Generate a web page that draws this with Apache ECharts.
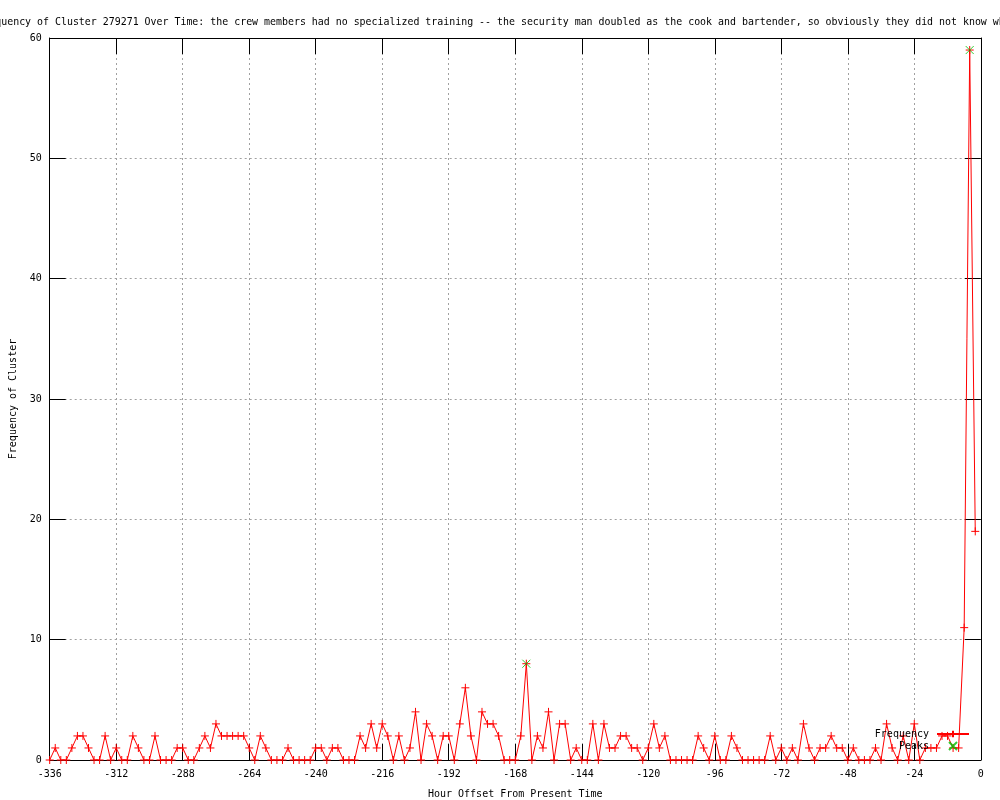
<!DOCTYPE html>
<html><head><meta charset="utf-8">
<script src="https://cdn.jsdelivr.net/npm/echarts@6.0.0/dist/echarts.min.js"></script>
<style>html,body{margin:0;padding:0;background:#fff}#c{width:1000px;height:800px}</style>
</head><body><div id="c"></div>
<script>
const titleText = "Frequency of Cluster 279271 Over Time: the crew members had no specialized training -- the security man doubled as the cook and bartender, so obviously they did not know what ";
const xAxisName = "Hour Offset From Present Time";
const yAxisName = "Frequency of Cluster";
const hours = [-336,-334,-332,-330,-328,-326,-324,-322,-320,-318,-316,-314,-312,-310,-308,-306,-304,-302,-300,-298,-296,-294,-292,-290,-288,-286,-284,-282,-280,-278,-276,-274,-272,-270,-268,-266,-264,-262,-260,-258,-256,-254,-252,-250,-248,-246,-244,-242,-240,-238,-236,-234,-232,-230,-228,-226,-224,-222,-220,-218,-216,-214,-212,-210,-208,-206,-204,-202,-200,-198,-196,-194,-192,-190,-188,-186,-184,-182,-180,-178,-176,-174,-172,-170,-168,-166,-164,-162,-160,-158,-156,-154,-152,-150,-148,-146,-144,-142,-140,-138,-136,-134,-132,-130,-128,-126,-124,-122,-120,-118,-116,-114,-112,-110,-108,-106,-104,-102,-100,-98,-96,-94,-92,-90,-88,-86,-84,-82,-80,-78,-76,-74,-72,-70,-68,-66,-64,-62,-60,-58,-56,-54,-52,-50,-48,-46,-44,-42,-40,-38,-36,-34,-32,-30,-28,-26,-24,-22,-20,-18,-16,-14,-12,-10,-8,-6,-4,-2];
const frequency = [0,1,0,0,1,2,2,1,0,0,2,0,1,0,0,2,1,0,0,2,0,0,0,1,1,0,0,1,2,1,3,2,2,2,2,2,1,0,2,1,0,0,0,1,0,0,0,0,1,1,0,1,1,0,0,0,2,1,3,1,3,2,0,2,0,1,4,0,3,2,0,2,2,0,3,6,2,0,4,3,3,2,0,0,0,2,8,0,2,1,4,0,3,3,0,1,0,0,3,0,3,1,1,2,2,1,1,0,1,3,1,2,0,0,0,0,0,2,1,0,2,0,0,2,1,0,0,0,0,0,2,0,1,0,1,0,3,1,0,1,1,2,1,1,0,1,0,0,0,1,0,3,1,0,2,0,3,0,1,1,1,2,2,1,1,11,59,19];
const peakHours = [-164, -4];
const peakValues = [8, 59];
const xTickInterval = 24;
const yTickInterval = 10;

const FONT = "DejaVu Sans Mono";
const chart = echarts.init(document.getElementById('c'), null, {renderer: 'canvas'});
const plusPath = 'path://M0,-5L0,5M-5,0L5,0';
const xPath = 'path://M-5,-5L5,5M-5,5L5,-5';
const common = {fontFamily: FONT, fontSize: 10, color: '#000'};
const tick = {show: true, inside: true, length: 16, lineStyle: {color: '#000', width: 1}};
const grid = {show: true, lineStyle: {color: '#a0a0a0', width: 1, type: [2, 3]}};
const axLine = {show: true, onZero: false, lineStyle: {color: '#000', width: 1}};

chart.setOption({
  animation: false,
  backgroundColor: '#fff',
  title: {text: titleText, left: 'center', top: 12, textStyle: {fontFamily: FONT, fontSize: 9.93, color: '#000', fontWeight: 'normal'}},
  grid: {left: 49.7, right: 19.2, top: 38, bottom: 40, show: false, containLabel: false, outerBoundsMode: 'none'},
  legend: {
    orient: 'vertical', right: 25, top: 724, align: 'right',
    itemWidth: 32, itemHeight: 8, itemGap: 2,
    textStyle: Object.assign({padding: [0, 3, 0, 0]}, common), data: ['Frequency', 'Peaks']
  },
  xAxis: [{
    type: 'value', min: -336, max: 0, interval: xTickInterval, position: 'bottom',
    name: xAxisName, nameLocation: 'middle', nameGap: 29, nameTextStyle: common,
    axisLine: axLine, axisTick: tick,
    axisLabel: Object.assign({margin: 9, showMinLabel: true, showMaxLabel: true}, common),
    splitLine: grid
  }, {
    type: 'value', min: -336, max: 0, interval: xTickInterval, position: 'top',
    axisLine: axLine, axisTick: tick,
    axisLabel: {show: false}, splitLine: {show: false}
  }],
  yAxis: [{
    type: 'value', min: 0, max: 60, interval: yTickInterval, position: 'left',
    name: yAxisName, nameLocation: 'middle', nameGap: 31, nameRotate: 90, nameTextStyle: common,
    axisLine: axLine, axisTick: tick,
    axisLabel: Object.assign({margin: 8}, common),
    splitLine: grid
  }, {
    type: 'value', min: 0, max: 60, interval: yTickInterval, position: 'right',
    axisLine: axLine, axisTick: tick,
    axisLabel: {show: false}, splitLine: {show: false}
  }],
  series: [{
    name: 'Frequency', type: 'line', xAxisIndex: 0, yAxisIndex: 0,
    data: hours.map((h, i) => [h, frequency[i]]),
    symbol: plusPath, symbolSize: 8, showAllSymbol: true,
    lineStyle: {color: '#ff0000', width: 1},
    itemStyle: {color: 'rgba(0,0,0,0)', borderColor: '#ff0000', borderWidth: 1},
    z: 2
  }, {
    name: 'Peaks', type: 'scatter', xAxisIndex: 0, yAxisIndex: 0,
    data: peakHours.map((h, i) => [h, peakValues[i]]),
    symbol: xPath, symbolSize: 8,
    itemStyle: {color: 'rgba(0,0,0,0)', borderColor: '#00c000', borderWidth: 1},
    z: 3
  }]
});
</script></body></html>
